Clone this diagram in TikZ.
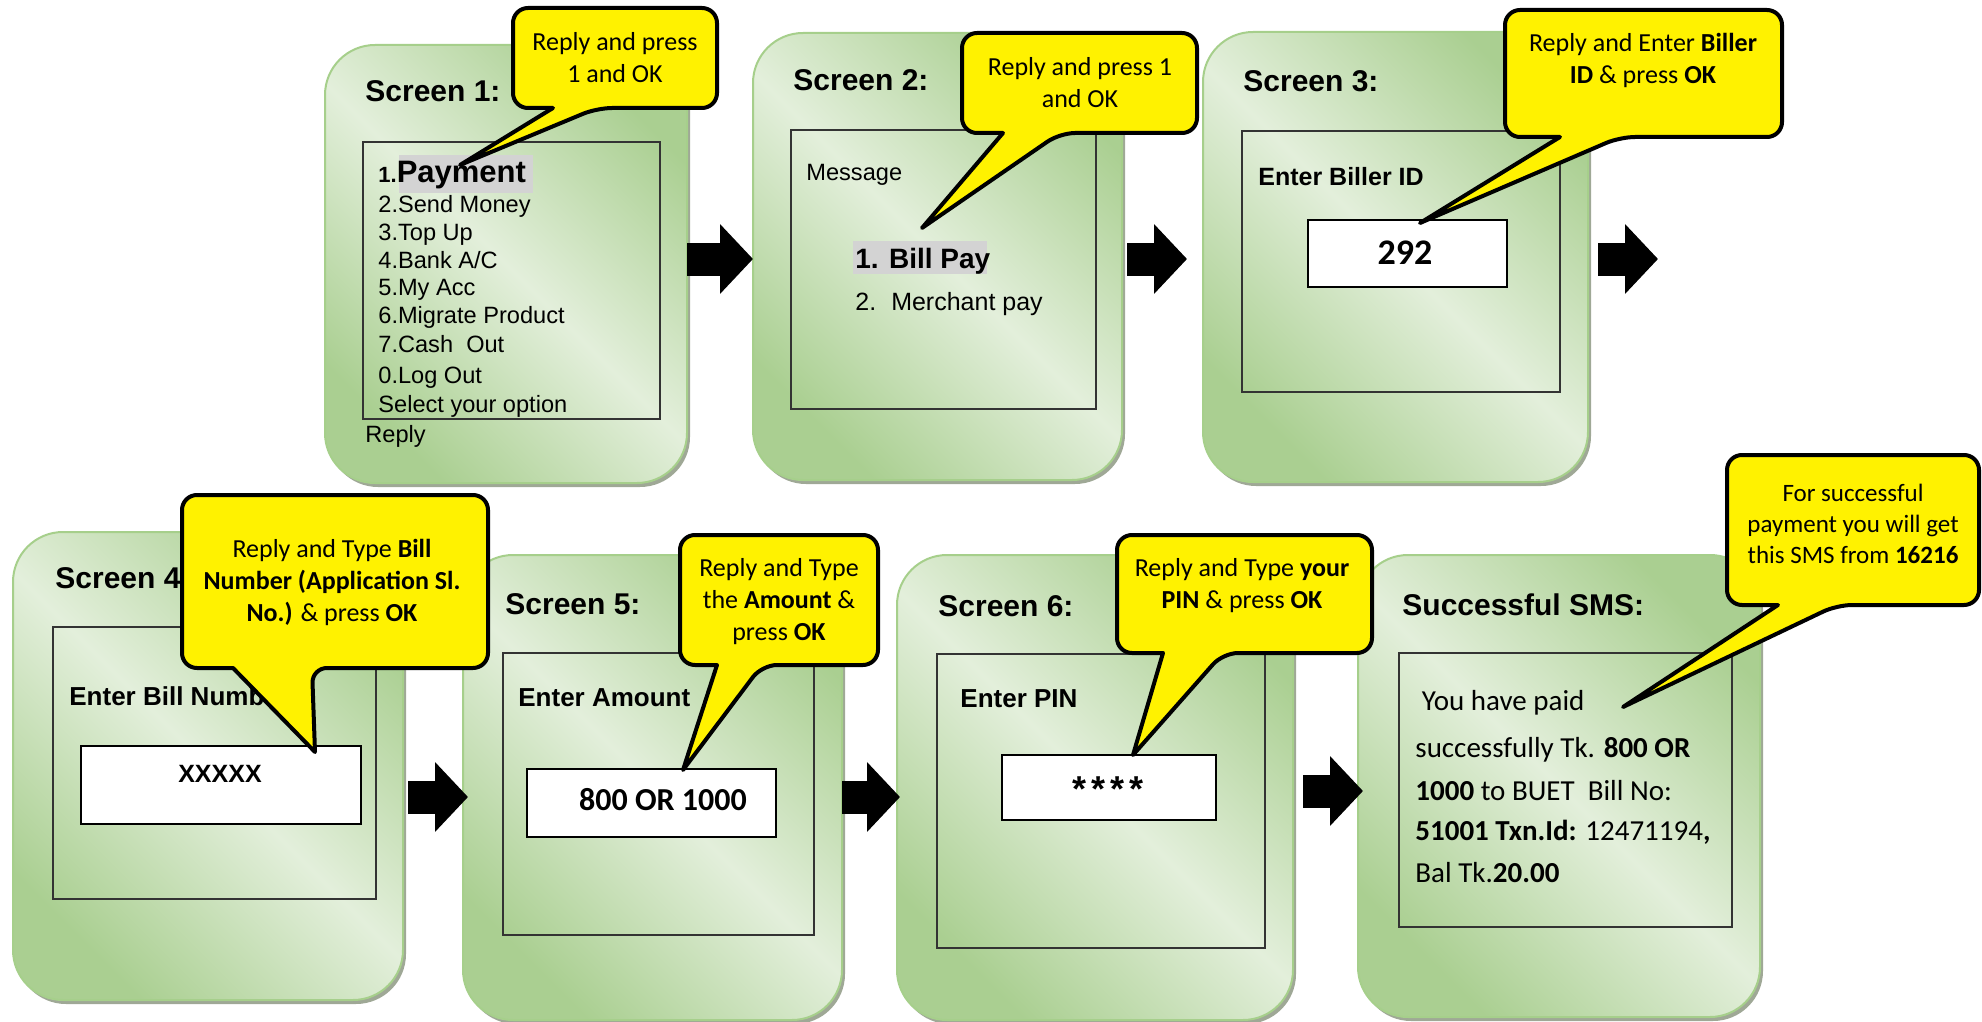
\documentclass[tikz,border=0pt]{standalone}
\usepackage{fontspec}
\setmainfont{Liberation Sans}
\newfontfamily\calfont{Carlito}
\usetikzlibrary{arrows.meta,shadows,calc}

\definecolor{phonedark}{HTML}{AACF91}
\definecolor{phonelight}{HTML}{E3EFDB}
\definecolor{phoneedge}{HTML}{A6CF8B}
\definecolor{phoneshade}{HTML}{9FA896}
\definecolor{hilite}{HTML}{D3D3D3}
\newcommand{\fsz}[2]{\fontsize{#1}{#2}\selectfont}

\begin{document}
\begin{tikzpicture}
   [x=0.5pt, y=-0.5pt,
    phone/.style={draw=phoneedge, line width=1pt, rounded corners=25pt,
      left color=phonedark, right color=phonedark, middle color=phonelight, shading angle=135,
      drop shadow={shadow xshift=1.5pt, shadow yshift=-2pt, fill=phoneshade, opacity=1},
      anchor=north west, inner sep=0pt, outer sep=0pt},
    screen/.style={draw=black!80, line width=0.6pt, anchor=north west, inner sep=0pt, outer sep=0pt},
    inbox/.style={draw=black, fill=white, line width=0.8pt, anchor=north west, inner sep=0pt, outer sep=0pt},
    title/.style={anchor=base west, inner sep=0pt, font=\bfseries\fsz{15}{18}},
    menu/.style={anchor=base west, inner sep=0pt, font=\fsz{11.8}{14}},
    prompt/.style={anchor=base west, inner sep=0pt, font=\bfseries\fsz{13}{16}},
    sms/.style={anchor=base west, inner sep=0pt, font=\calfont\fsz{14.5}{18}},
    bubble/.style={draw=black, fill=yellow, line width=2pt, line join=round},
    tip/.style={align=center, inner sep=0pt, font=\calfont\fsz{13}{16}},
    bigarrow/.style={line width=16.5pt, -{Triangle[length=16.5pt,width=34pt]}}]
  \useasboundingbox (0,0) rectangle (1982,1022);

  % draw phones
  \foreach \n/\xa/\ya/\xb/\yb in {1/325/45/687/483, 2/753/33/1122/480, 3/1203/32/1588/482,
      4/13/532/403/1000, 5/463/555/842/1020, 6/897/555/1293/1020, 7/1358/555/1760/1017} {
    \node[phone, minimum width={(\xb-\xa)*0.5pt}, minimum height={(\yb-\ya)*0.5pt}] (p\n) at (\xa,\ya) {};
  };
  % draw screens
  \foreach \n/\xa/\ya/\xb/\yb in {1/363/142/660/419, 2/791/130/1096/409, 3/1242/131/1560/392,
      4/53/627/376/899, 5/503/653/814/935, 6/937/654/1265/948, 7/1399/653/1732/927} {
    \node[screen, minimum width={(\xb-\xa)*0.5pt}, minimum height={(\yb-\ya)*0.5pt}] (s\n) at (\xa,\ya) {};
  };
  % input fields
  \foreach \n/\xa/\ya/\xb/\yb in {3/1308/220/1507/287, 4/81/746/361/824, 5/527/769/776/837, 6/1002/755/1216/820} {
    \node[inbox, minimum width={(\xb-\xa)*0.5pt}, minimum height={(\yb-\ya)*0.5pt}] (b\n) at (\xa,\ya) {};
  };
  \fill[hilite] (399,155) rectangle (533,193);
  \fill[hilite] (853,241) rectangle (987,274);

  % titles
  \foreach \n/\x/\y in {1/365/102, 2/793/91, 3/1243/92, 4/55/588, 5/505/614, 6/938/616} {
    \node[title] (h\n) at (\x,\y) {Screen \n:};
  };
  \node[title] (h7) at (1402,615) {Successful SMS:};

  % screen 1 menu
  \node[menu] (m0) at (378,183) {{\bfseries\fsz{11}{12}1.}{\bfseries\fsz{15.5}{18}Payment}};
  \foreach \t/\y [count=\i] in {{2.Send Money}/213, {3.Top Up}/240, {4.Bank A/C}/268, {5.My Acc}/295,
      {6.Migrate Product}/323, {7.Cash\ \ Out}/352, {0.Log Out}/383, {Select your option}/412} {
    \node[menu] (m\i) at (378,\y) {\t};
  };
  \node[menu] (reply) at (365,442) {Reply};

  % screen 2
  \node[menu] (msg) at (806,181) {Message};
  \node[menu, font=\bfseries\fsz{14}{16}] (bill) at (855,268) {1. Bill Pay};
  \node[menu, font=\fsz{12.5}{15}] (merch) at (855,310) {2.\hspace{7.5pt}Merchant pay};

  % prompts and values
  \node[prompt, font=\bfseries\fsz{12.5}{15}] (e3) at (1258,185) {Enter Biller ID};
  \node[prompt] (e4) at (69,705) {Enter Bill Number};
  \node[prompt] (e5) at (518,706) {Enter Amount};
  \node[prompt] (e6) at (960,707) {Enter PIN};
  \node[anchor=base, inner sep=0pt, font=\calfont\bfseries\fsz{18}{20}] (v3) at (1405,264) {292};
  \node[anchor=base, inner sep=0pt, font=\bfseries\fsz{12.5}{15}] (v4) at (220,782) {XXXXX};
  \node[anchor=base, inner sep=0pt, font=\calfont\bfseries\fsz{16}{18}] (v5) at (663,810) {800 OR 1000};
  \node[anchor=base, inner sep=0pt, font=\bfseries\fsz{18}{20}] (v6) at (1108,801)
    {*\hspace{2.5pt}*\hspace{2.5pt}*\hspace{2.5pt}*};

  % sms text
  \foreach \t/\y [count=\i] in {{\ You have paid}/710, {successfully Tk. \textbf{800 OR}}/757,
      {\textbf{1000} to BUET\ \ Bill No:}/800, {\textbf{51001 Txn.Id:} 12471194\textbf{,}}/840,
      {Bal Tk.\textbf{20.00}}/882} {
    \node[sms] (t\i) at (1415,\y) {\t};
  };

  % flow arrows
  \draw[bigarrow] (p1.east |- 0,259) -- (p2.west |- 0,259);
  \draw[bigarrow] ($(p2.east |- 0,259)+(5,0)$) -- ($(p3.west |- 0,259)+(-16,0)$);
  \coordinate (next) at (1658,259);
  \draw[bigarrow] ($(p3.east |- 0,259)+(10,0)$) -- (next);
  \draw[bigarrow] ($(p4.east |- 0,797)+(5,0)$) -- ($(p5.west |- 0,797)+(5,0)$);
  \draw[bigarrow] (p5.east |- 0,797) -- ($(p6.west |- 0,797)+(3,0)$);
  \draw[bigarrow] ($(p6.east |- 0,791)+(10,0)$) -- ($(p7.west |- 0,791)+(5,0)$);

  % callouts
  \foreach \xa/\ya/\xb/\yb/\ba/\bb/\tx/\ty in {513/8/717/108/553/597/460/165,
      962/33/1197/133/1003/1060/922/228, 1505/10/1782/137/1560/1620/1420/223,
      182/495/488/668/233/312/315/752, 680/535/878/665/717/762/683/770,
      1117/535/1372/653/1163/1223/1133/755, 1727/455/1979/605/1778/1837/1623/707} {
    \draw[bubble] (\tx,\ty) -- (\ba,\yb) [rounded corners=7.5pt] -- (\xa,\yb) -- (\xa,\ya)
      -- (\xb,\ya) -- (\xb,\yb) -- (\bb,\yb) [sharp corners] -- cycle;
  };
  \node[tip] (c1) at (615,58) {Reply and press\\1 and OK};
  \node[tip] (c2) at (1080,83) {Reply and press 1\\and OK};
  \node[tip] (c3) at (1643,60) {Reply and Enter \textbf{Biller}\\\textbf{ID} \& press \textbf{OK}};
  \node[tip] (c4) at (332,582) {Reply and Type \textbf{Bill}\\\textbf{Number (Application Sl.}\\\textbf{No.)} \& press \textbf{OK}};
  \node[tip] (c5) at (779,602) {Reply and Type\\the \textbf{Amount} \&\\press \textbf{OK}};
  \node[tip] (c6) at (1242,586) {Reply and Type \textbf{your}\\\textbf{PIN} \& press \textbf{OK}};
  \node[tip, font=\calfont\fsz{12.5}{15.5}] (c7) at (1853,524) {For successful\\payment you will get\\this SMS from \textbf{16216}};
\end{tikzpicture}
\end{document}
